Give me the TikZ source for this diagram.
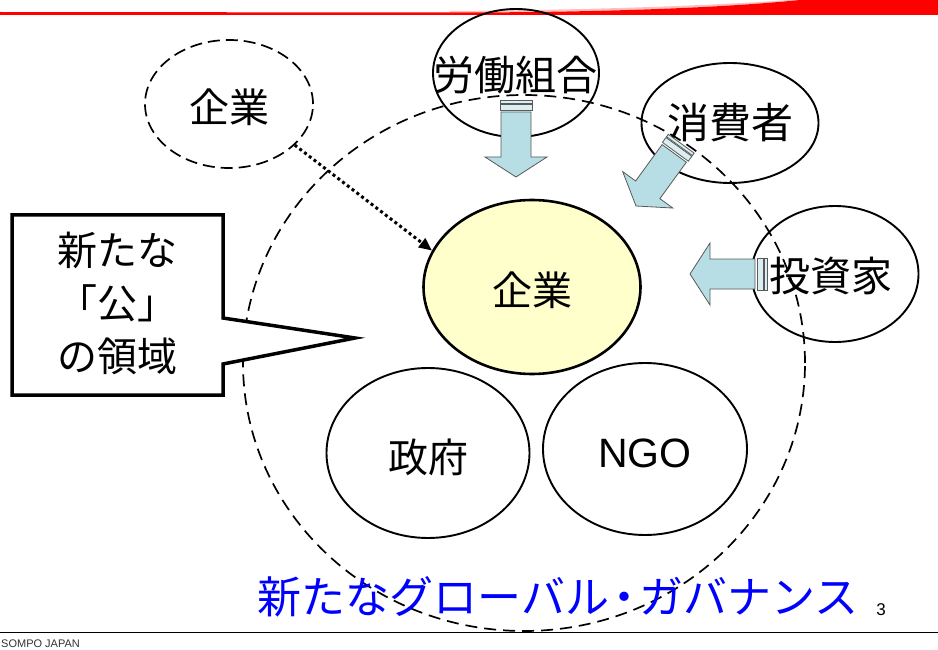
\documentclass[tikz,border=0pt]{standalone}
\usepackage{fontspec}
\setmainfont{Liberation Sans}
\newfontfamily\jp{Noto Sans CJK JP}
\usetikzlibrary{shapes.geometric,arrows.meta}
\definecolor{arrowblue}{RGB}{183,222,228}
\definecolor{softyellow}{RGB}{255,255,204}
\definecolor{hdrred}{RGB}{255,0,0}
\definecolor{txtblue}{RGB}{0,0,255}
\tikzset{
  blockarrow/.pic={
    \draw[fill=arrowblue, draw=black!65, line width=0.8pt, line join=miter]
      (0,0) -- (-31,-20) -- (-15,-20) -- (-15,-65) -- (15,-65) -- (15,-20) -- (31,-20) -- cycle;
    \draw[fill=arrowblue!50!white, draw=black!65, line width=0.8pt] (-16,-67) rectangle (16,-73);
    \draw[fill=arrowblue!50!white, draw=black!65, line width=0.8pt] (-16,-74) rectangle (16,-77);
  }
}
\begin{document}
\begin{tikzpicture}[x=1pt,y=-1pt,
  ell/.style={ellipse, draw, line width=1.9pt, inner sep=0pt},
  dashell/.style={ellipse, draw, line width=1.7pt, dash pattern=on 12pt off 7pt, inner sep=0pt},
  jptext/.style={font=\jp\fontsize{40}{48}\selectfont, inner sep=0pt},
]
\useasboundingbox (0,0) rectangle (938,650);
\fill[white] (0,0) rectangle (938,650);

% header
\fill[hdrred!25] (450,11) .. controls (600,10) and (720,5) .. (790,0) -- (800,0)
  .. controls (720,8) and (600,12.5) .. (450,12.5) -- cycle;
\fill[hdrred] (0,12) -- (450,12.5) .. controls (600,12.5) and (720,8) .. (800,0)
  -- (938,0) -- (938,15) -- (0,15) -- cycle;

% big dashed circle
\node[dashell, minimum width=562pt, minimum height=536pt] (big) at (524,363) {};

% outer actors
\node[dashell, dash pattern=on 12pt off 6pt, minimum width=168pt, minimum height=128pt] (k1) at (229,104) {};
\node[jptext] (k1t) at (229,107) {企業};

\node[ell, minimum width=166pt, minimum height=128pt] (rodo) at (516,73) {};
\node[jptext, font=\jp\fontsize{41}{48}\selectfont] (rodot) at (515,75) {労働組合};

\node[ell, minimum width=177pt, minimum height=120pt] (shohi) at (730,123) {};
\node[jptext, font=\jp\fontsize{42}{48}\selectfont] (shohit) at (730,123) {消費者};

\node[ell, minimum width=167pt, minimum height=136pt] (toshi) at (835,274) {};
\node[jptext, font=\jp\fontsize{41}{48}\selectfont] (toshit) at (831,276) {投資家};

% inner actors
\node[ell, line width=2.6pt, fill=softyellow, minimum width=217pt, minimum height=174pt] (k2) at (532,287) {};
\node[jptext] (k2t) at (532,290) {企業};

\node[ell, minimum width=203pt, minimum height=170pt] (seifu) at (428,453) {};
\node[jptext] (seifut) at (428,457) {政府};

\node[ell, minimum width=204pt, minimum height=172pt] (ngo) at (645,449) {};
\node[font=\fontsize{41}{48}\selectfont, inner sep=0pt] (ngot) at (645,453) {NGO};

% block arrows
\pic at (516,177) {blockarrow};
\pic[rotate=-36] at (636,206) {blockarrow};
\pic[rotate=-90] at (690,274) {blockarrow};

% dotted arrow
\draw[line width=3pt, dash pattern=on 3pt off 3pt, -{Triangle[length=13pt,width=11pt]}]
  (k1.-32) -- (k2.160);

% callout
\draw[line width=3.5pt, fill=white, line join=miter]
  (12,215) -- (223,215) -- (223,318) -- (355,338) -- (223,364) -- (223,395) -- (12,395) -- cycle;
\node[jptext, font=\jp\fontsize{40}{53}\selectfont, align=center] (callout) at (117,303)
  {新たな\\「公」\\の領域};

% bottom title
\node[jptext, font=\jp\fontsize{44}{50}\selectfont, text=txtblue] (title) at (558,597)
  {新たなグローバル\kern-7pt・\kern-7pt ガバナンス};
\node[font=\fontsize{17}{20}\selectfont, inner sep=0pt] (pageno) at (881,610) {3};

% footer
\draw[line width=1.5pt] (0,632.5) -- (938,632.5);
\node[font=\fontsize{11}{13}\selectfont, inner sep=0pt, anchor=base west, text=black!80] (sompo) at (1,647.5) {SOMPO JAPAN};
\end{tikzpicture}
\end{document}
